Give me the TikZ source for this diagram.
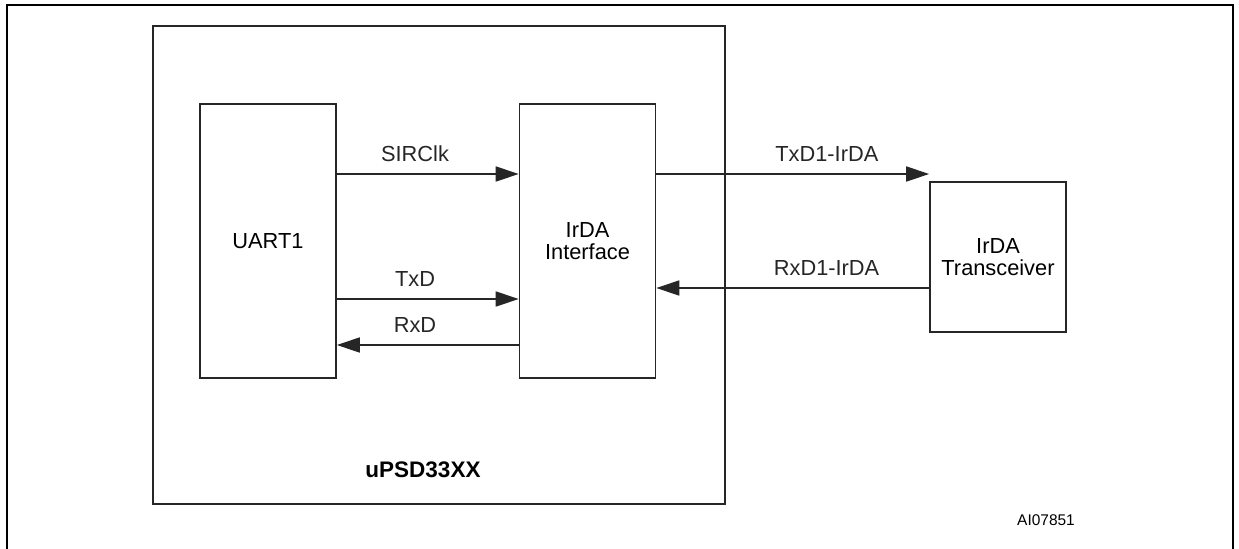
\documentclass[tikz,border=0pt]{standalone}
\usepackage{fontspec}
\setmainfont{Liberation Sans}
\usetikzlibrary{arrows.meta, positioning, calc}

\begin{document}
\begin{tikzpicture}[x=0.025cm, y=-0.025cm]
            \tikzstyle{block} = [rectangle, draw=black!85, line width=1.1pt, inner sep=0pt, font=\fontsize{15.5}{16}\selectfont, align=center]
            \tikzstyle{arrow} = [line width=1.1pt, black!85, -{Triangle[length=0.575cm, width=0.375cm]}]
            \tikzstyle{lbl} = [font=\fontsize{15.5}{16}\selectfont, inner sep=0pt, above=8pt]
            \useasboundingbox (0,0) rectangle (1239,548);

            % frame
            \draw[line width=1.5pt] (7,560) -- (7,5) -- (1233,5) -- (1233,560);

            \node[block, minimum width=14.3cm, minimum height=11.95cm] (chip) at (439,265) {};
            \node[block, minimum width=3.4cm, minimum height=6.85cm] (uart) at (268,241) {UART1};
            \node[block, minimum width=3.4cm, minimum height=6.85cm] (irda) at (587.5,241) {IrDA\\Interface};
            \node[block, minimum width=3.4cm, minimum height=3.75cm] (xcvr) at (998,257) {IrDA\\Transceiver};

            \node[inner sep=0pt, font=\fontsize{16}{18}\selectfont\bfseries] (name) at (423,470) {uPSD33XX};
            \node[inner sep=0pt, font=\fontsize{11}{13}\selectfont] (fig) at (1046,520) {AI07851};

            \draw[arrow] (uart.east |- 0,174) -- node[lbl, pos=0.43] {SIRClk} (irda.west |- 0,174);
            \draw[arrow] (uart.east |- 0,299) -- node[lbl, pos=0.43] {TxD} (irda.west |- 0,299);
            \draw[arrow] (irda.west |- 0,345) -- node[lbl, pos=0.57] {RxD} (uart.east |- 0,345);
            \draw[arrow] (irda.east |- 0,174) -- node[lbl, pos=0.625] {TxD1-IrDA} (xcvr.west |- 0,174);
            \draw[arrow] (xcvr.west |- 0,288) -- node[lbl, pos=0.376] {RxD1-IrDA} (irda.east |- 0,288);
        \end{tikzpicture}
\end{document}
